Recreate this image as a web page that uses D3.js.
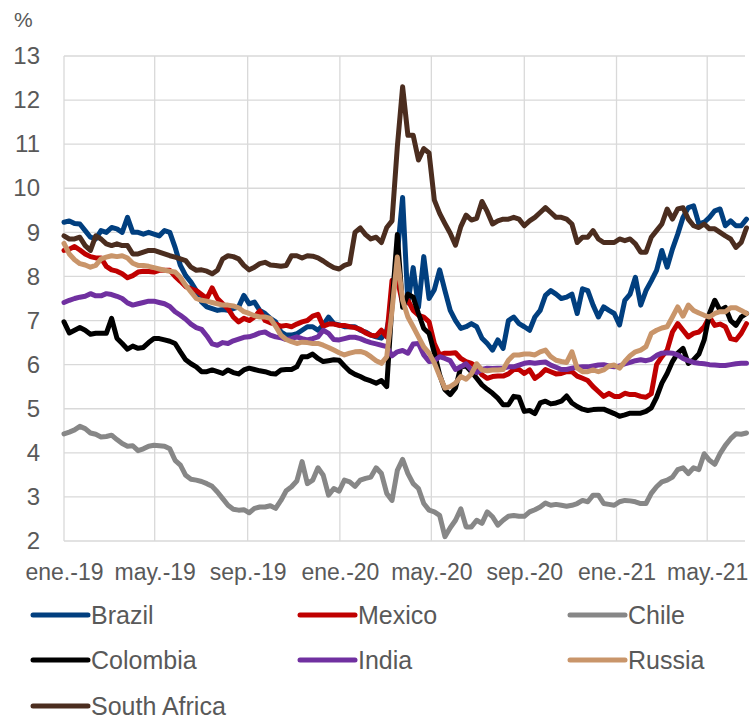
<!DOCTYPE html>
<html><head><meta charset="utf-8">
<script src="https://cdn.jsdelivr.net/npm/d3@7"></script>
<style>
body{margin:0;background:#fff}
svg{display:block}
text{font-family:"Liberation Sans",Arial,Helvetica,sans-serif;fill:#595959}
</style>
</head><body>
<svg id="chart" width="751" height="720"></svg>
<script>
// ---- data (weekly observations starting 2019-01-01) ----
const startDate = new Date(2019, 0, 1);
const endDate = new Date(2021, 5, 20);

const seriesNames = ["Brazil", "Mexico", "Chile", "Colombia", "India", "Russia", "South Africa"];
const seriesColors = ["#013f7f", "#c00000", "#878787", "#000000", "#7030a0", "#c9956a", "#4b2d1f"];

const brazil = [9.23,9.26,9.2,9.19,9.04,8.89,8.85,9.04,9.0,9.11,9.08,9.0,9.34,9.0,9.0,8.96,9.0,8.96,8.92,9.04,9.0,8.66,8.25,8.02,7.87,7.68,7.42,7.31,7.27,7.23,7.25,7.23,7.27,7.31,7.57,
7.38,7.42,7.23,7.16,7.05,6.97,6.74,6.67,6.67,6.7,6.78,6.86,6.86,6.78,6.9,7.08,6.93,6.9,6.86,6.86,6.86,6.78,6.74,6.67,6.63,6.6,6.78,7.38,8.51,9.79,7.4,8.2,7.3,8.45,
7.5,7.7,8.15,7.68,7.23,7.0,6.82,6.86,6.93,6.86,6.6,6.48,6.33,6.56,6.37,7.0,7.08,6.93,6.86,6.78,7.08,7.23,7.57,7.68,7.6,7.5,7.53,7.6,7.16,7.72,7.68,7.35,7.08,7.31,
7.23,7.16,6.9,7.46,7.6,7.98,7.35,7.68,7.9,8.14,8.59,8.21,8.62,8.96,9.34,9.56,9.6,9.19,9.23,9.34,9.49,9.53,9.15,9.26,9.15,9.15,9.3];

const mexico = [8.59,8.62,8.68,8.6,8.51,8.45,8.42,8.42,8.23,8.15,8.12,8.06,7.97,8.02,8.1,8.12,8.11,8.1,8.14,8.14,8.14,8.0,7.89,7.77,7.72,7.68,7.59,7.5,7.74,7.5,7.38,7.27,7.08,6.97,7.05,
7.0,7.08,7.22,7.0,6.95,6.92,6.87,6.89,6.86,6.92,6.97,7.0,7.1,7.14,6.87,6.92,6.92,6.89,6.89,6.86,6.84,6.8,6.72,6.67,6.65,6.78,6.63,7.91,7.95,7.38,7.46,7.23,7.12,7.08,
6.97,6.48,6.22,6.26,6.26,6.27,6.14,6.07,6.03,5.95,5.77,5.69,5.73,5.74,5.74,5.79,5.89,5.89,5.8,5.88,5.69,5.77,5.89,5.84,5.79,5.8,5.84,5.84,5.74,5.69,5.64,5.5,5.39,5.28,
5.35,5.28,5.28,5.35,5.32,5.32,5.28,5.26,5.34,6.0,6.18,6.33,6.74,6.93,6.78,6.63,6.71,6.74,6.86,7.08,6.89,6.92,6.86,6.59,6.56,6.71,6.93];

const chile = [4.43,4.47,4.52,4.6,4.55,4.45,4.42,4.36,4.37,4.4,4.3,4.21,4.15,4.16,4.05,4.09,4.15,4.17,4.16,4.15,4.09,3.83,3.72,3.49,3.4,3.38,3.35,3.3,3.24,3.11,2.96,2.81,2.72,2.7,2.71,
2.64,2.74,2.77,2.77,2.8,2.74,2.92,3.14,3.23,3.36,3.8,3.3,3.38,3.66,3.49,3.04,3.19,3.13,3.38,3.34,3.24,3.38,3.42,3.45,3.66,3.53,3.08,2.92,3.6,3.85,3.53,3.3,3.19,2.85,
2.7,2.66,2.58,2.1,2.3,2.47,2.73,2.32,2.32,2.47,2.4,2.66,2.55,2.36,2.47,2.56,2.58,2.56,2.56,2.66,2.71,2.77,2.86,2.81,2.83,2.81,2.79,2.81,2.85,2.92,2.89,3.04,3.04,2.85,
2.83,2.81,2.89,2.92,2.91,2.89,2.85,2.85,3.08,3.23,3.34,3.38,3.45,3.62,3.66,3.53,3.66,3.62,3.98,3.83,3.74,3.98,4.17,4.32,4.43,4.42,4.45];

const colombia = [6.97,6.72,6.78,6.84,6.78,6.69,6.71,6.71,6.71,7.05,6.6,6.48,6.35,6.42,6.37,6.39,6.5,6.59,6.59,6.56,6.53,6.48,6.29,6.11,6.02,5.95,5.84,5.84,5.88,5.84,5.8,5.88,5.82,5.79,5.88,
5.92,5.89,5.86,5.84,5.8,5.79,5.88,5.89,5.89,5.95,6.18,6.18,6.24,6.14,6.07,6.09,6.11,6.1,5.97,5.85,5.78,5.73,5.67,5.63,5.58,5.64,5.5,7.38,8.95,7.3,7.6,7.53,7.16,6.82,
6.71,6.27,5.77,5.43,5.32,5.47,5.95,5.97,5.84,5.69,5.54,5.44,5.35,5.24,5.09,5.09,5.28,5.26,4.94,4.96,4.89,5.13,5.17,5.11,5.13,5.17,5.29,5.13,5.05,4.99,4.96,4.98,4.99,4.99,
4.94,4.89,4.83,4.86,4.9,4.9,4.9,4.94,5.02,5.26,5.58,5.8,6.07,6.26,6.37,6.03,6.11,6.24,6.56,7.16,7.46,7.23,7.3,7.0,6.89,7.08,7.16];

const india = [7.41,7.46,7.5,7.53,7.55,7.61,7.56,7.56,7.61,7.59,7.55,7.5,7.4,7.35,7.38,7.41,7.44,7.44,7.41,7.38,7.32,7.2,7.12,7.03,6.92,6.84,6.8,6.65,6.47,6.44,6.5,6.48,6.54,6.58,6.62,
6.63,6.67,6.72,6.74,6.67,6.63,6.61,6.57,6.59,6.63,6.59,6.56,6.59,6.63,6.78,6.71,6.57,6.56,6.59,6.62,6.62,6.59,6.54,6.5,6.47,6.44,6.41,6.2,6.29,6.32,6.26,6.47,6.48,6.22,
6.07,6.09,6.18,6.14,6.09,5.89,5.95,6.02,5.88,5.82,5.89,5.92,5.91,5.92,5.92,5.95,5.95,5.99,6.03,6.05,6.03,6.05,6.06,5.99,5.94,5.89,5.89,5.92,5.94,5.95,5.95,5.97,5.99,6.0,
5.97,5.95,5.97,6.02,6.05,6.09,6.11,6.09,6.12,6.21,6.26,6.27,6.26,6.22,6.14,6.09,6.05,6.03,6.02,6.0,5.99,5.98,5.98,6.0,6.02,6.03,6.03];

const russia = [8.75,8.51,8.38,8.29,8.26,8.21,8.25,8.4,8.44,8.47,8.45,8.47,8.42,8.3,8.25,8.25,8.23,8.2,8.17,8.14,8.12,8.1,7.98,7.8,7.65,7.5,7.46,7.44,7.41,7.38,7.35,7.35,7.33,7.29,7.2,
7.16,7.11,7.08,7.08,7.05,6.87,6.67,6.57,6.52,6.48,6.51,6.5,6.48,6.48,6.44,6.39,6.33,6.27,6.22,6.26,6.29,6.3,6.26,6.18,6.09,6.03,6.18,7.23,8.44,7.46,7.08,6.86,6.63,6.4,
6.26,6.04,5.74,5.47,5.5,5.58,5.73,5.67,5.79,6.02,5.88,5.86,5.88,5.88,5.89,6.1,6.22,6.22,6.24,6.24,6.22,6.29,6.33,6.18,6.1,6.07,6.05,6.29,5.92,5.84,5.84,5.88,5.84,5.88,
5.97,5.99,5.92,6.07,6.2,6.29,6.33,6.41,6.71,6.78,6.83,6.86,7.08,7.31,7.1,7.35,7.23,7.17,7.12,7.08,7.16,7.2,7.2,7.29,7.29,7.23,7.16];

const southAfrica = [8.92,8.85,8.85,8.89,8.7,8.59,8.92,8.85,8.74,8.7,8.74,8.7,8.7,8.51,8.51,8.55,8.59,8.59,8.55,8.51,8.47,8.44,8.4,8.36,8.21,8.14,8.15,8.12,8.06,8.14,8.4,8.47,8.45,8.4,8.25,
8.15,8.21,8.29,8.32,8.26,8.25,8.23,8.25,8.47,8.47,8.42,8.47,8.46,8.42,8.35,8.27,8.2,8.17,8.25,8.29,9.0,9.1,8.95,8.85,8.89,8.77,9.11,9.26,10.94,12.3,11.2,11.2,10.64,10.9,
10.8,9.73,9.43,9.2,8.98,8.71,9.13,9.39,9.28,9.32,9.7,9.47,9.19,9.26,9.3,9.3,9.34,9.3,9.15,9.26,9.34,9.45,9.56,9.45,9.34,9.34,9.3,9.19,8.77,8.89,8.89,9.04,8.85,8.77,
8.77,8.77,8.85,8.81,8.85,8.74,8.55,8.55,8.89,9.04,9.19,9.53,9.3,9.53,9.56,9.3,9.15,9.11,9.19,9.08,9.08,9.0,8.92,8.85,8.66,8.77,9.1];

const tickDates = [new Date(2019,0,1), new Date(2019,4,1), new Date(2019,8,1), new Date(2020,0,1),
                   new Date(2020,4,1), new Date(2020,8,1), new Date(2021,0,1), new Date(2021,4,1)];
const tickLabels = ["ene.-19","may.-19","sep.-19","ene.-20","may.-20","sep.-20","ene.-21","may.-21"];
const yTicks = [2,3,4,5,6,7,8,9,10,11,12,13];

// ---- build ----
const seriesValues = [brazil, mexico, chile, colombia, india, russia, southAfrica];
const dates = d3.range(brazil.length).map(i => d3.timeDay.offset(startDate, 7 * i));

const svg = d3.select("#chart");
const plotLeft = 64, plotRight = 745, plotTop = 56, plotBottom = 541;

const x = d3.scaleTime().domain([startDate, endDate]).range([plotLeft, plotRight]);
const y = d3.scaleLinear().domain([2, 13]).range([plotBottom, plotTop]);

const grid = svg.append("g");
grid.selectAll("line.h").data(yTicks).join("line")
  .attr("x1", plotLeft).attr("x2", plotRight)
  .attr("y1", d => y(d)).attr("y2", d => y(d))
  .attr("stroke", "#d9d9d9").attr("stroke-width", 1.3);
grid.selectAll("line.v").data(tickDates).join("line")
  .attr("x1", d => x(d)).attr("x2", d => x(d))
  .attr("y1", plotTop).attr("y2", plotBottom)
  .attr("stroke", "#d9d9d9").attr("stroke-width", 1.3);

// y axis labels
const yAxis = d3.axisLeft(y).tickValues(yTicks).tickSize(0).tickPadding(0).tickFormat(d3.format("d"));
const gy = svg.append("g").attr("transform", "translate(40,0)").call(yAxis);
gy.select(".domain").remove();
gy.selectAll("text").attr("font-size", 24).attr("fill", "#595959")
  .style("font-family", '"Liberation Sans", Arial, sans-serif');

// x axis labels
const xAxis = d3.axisBottom(x).tickValues(tickDates).tickSize(0).tickPadding(0)
  .tickFormat((d, i) => tickLabels[i]);
const gx = svg.append("g").attr("transform", "translate(0,564)").call(xAxis);
gx.select(".domain").remove();
gx.selectAll("text").attr("font-size", 23).attr("fill", "#595959")
  .style("font-family", '"Liberation Sans", Arial, sans-serif');

svg.append("text").attr("x", 14).attr("y", 27).attr("font-size", 21).text("%");

// lines
const line = d3.line().x((d, i) => x(dates[i])).y(d => y(d));
svg.append("g").selectAll("path").data(seriesValues).join("path")
  .attr("d", d => line(d))
  .attr("fill", "none")
  .attr("stroke", (d, i) => seriesColors[i])
  .attr("stroke-width", 5)
  .attr("stroke-linejoin", "round")
  .attr("stroke-linecap", "round");

// legend
const legCols = [33, 300, 570], legRows = [615, 660, 706];
const leg = svg.append("g").selectAll("g").data(seriesNames).join("g")
  .attr("transform", (d, i) => `translate(${legCols[i % 3]},${legRows[Math.floor(i / 3)]})`);
leg.append("line").attr("x1", 0).attr("x2", 55).attr("y1", 0).attr("y2", 0)
  .attr("stroke", (d, i) => seriesColors[i]).attr("stroke-width", 5).attr("stroke-linecap", "round");
leg.append("text").attr("x", 58).attr("y", 9)
  .attr("font-size", 25).text(d => d);
</script>
</body></html>
